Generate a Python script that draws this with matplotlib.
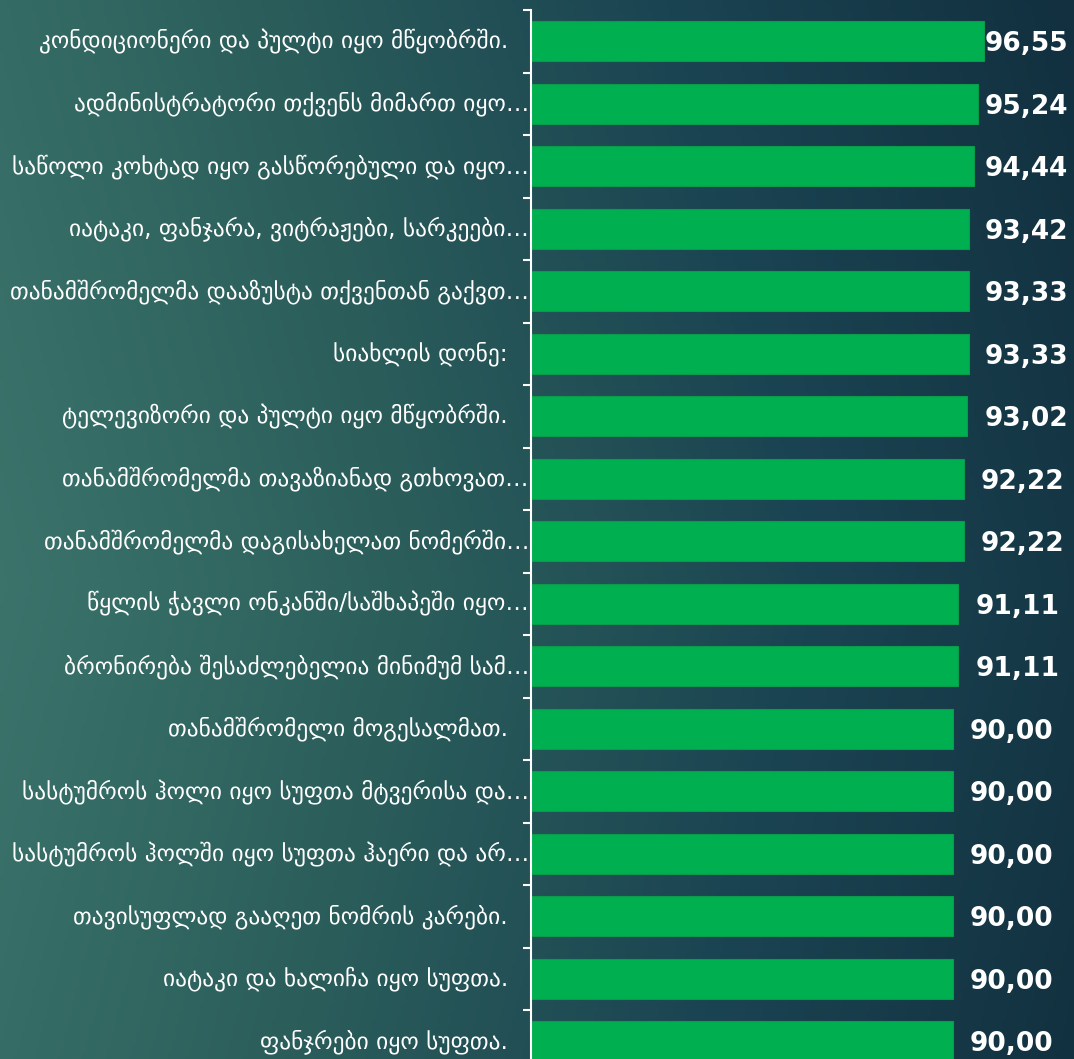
import numpy as np
import matplotlib
matplotlib.use("Agg")
import matplotlib.pyplot as plt
from matplotlib.colors import LinearSegmentedColormap

# data, top to bottom
labels = [
    "კონდიციონერი და პულტი იყო მწყობრში.",
    "ადმინისტრატორი თქვენს მიმართ იყო…",
    "საწოლი კოხტად იყო გასწორებული და იყო…",
    "იატაკი, ფანჯარა, ვიტრაჟები, სარკეები…",
    "თანამშრომელმა დააზუსტა თქვენთან გაქვთ…",
    "სიახლის დონე:",
    "ტელევიზორი და პულტი იყო მწყობრში.",
    "თანამშრომელმა თავაზიანად გთხოვათ…",
    "თანამშრომელმა დაგისახელათ ნომერში…",
    "წყლის ჭავლი ონკანში/საშხაპეში იყო…",
    "ბრონირება შესაძლებელია მინიმუმ სამ…",
    "თანამშრომელი მოგესალმათ.",
    "სასტუმროს ჰოლი იყო სუფთა მტვერისა და…",
    "სასტუმროს ჰოლში იყო სუფთა ჰაერი და არ…",
    "თავისუფლად გააღეთ ნომრის კარები.",
    "იატაკი და ხალიჩა იყო სუფთა.",
    "ფანჯრები იყო სუფთა.",
]
values = [96.55, 95.24, 94.44, 93.42, 93.33, 93.33, 93.02, 92.22, 92.22,
          91.11, 91.11, 90.00, 90.00, 90.00, 90.00, 90.00, 90.00]

W, H = 1074, 1059
fig = plt.figure(figsize=(W / 100, H / 100), dpi=100)

# gradient background (teal at left -> dark navy at right)
bg = fig.add_axes([0, 0, 1, 1])
bg.set_axis_off()
xx, yy = np.meshgrid(np.linspace(0, 1, 300), np.linspace(0, 1, 300))
t = np.clip(xx * 0.85 + np.abs(yy - 0.55) * 0.22, 0, 1)
cmap = LinearSegmentedColormap.from_list("bg", ["#3b736b", "#2b5e5b", "#1b4452", "#12303f"])
bg.imshow(t, cmap=cmap, aspect="auto", extent=[0, 1, 0, 1], origin="upper")
bg.set_xlim(0, 1)
bg.set_ylim(0, 1)

# main axes
x0 = 531 / W
px_per_unit = 4.69
xmax = 115
top = 10
band = 62.5
n = len(values)
ax_h = n * band
ax = fig.add_axes([x0, 1 - (top + ax_h) / H, xmax * px_per_unit / W, ax_h / H])
ax.patch.set_alpha(0)

y = np.arange(n)
ax.barh(y, values, height=0.64, color="#00B050", edgecolor="#0a9c4a", linewidth=0.8)
ax.set_xlim(0, xmax)
ax.set_ylim(n - 0.5, -0.5)

for s in ["top", "right", "bottom"]:
    ax.spines[s].set_visible(False)
ax.spines["left"].set_color("white")
ax.spines["left"].set_linewidth(1.5)
ax.set_xticks([])
ax.set_yticks(np.arange(-0.5, n, 1))
ax.set_yticklabels([])
ax.tick_params(axis="y", colors="white", length=6, width=1.5, direction="out")

# category labels
for i, lab in enumerate(labels):
    off = -2 if lab.endswith("…") else -23
    ax.annotate(lab, xy=(0, i), xytext=(off, 0), textcoords="offset pixels",
                ha="right", va="center", color="white", fontsize=16.8,
                family="DejaVu Sans", annotation_clip=False)

# value labels
cap = 96.8
pad = 17 / px_per_unit
for i, v in enumerate(values):
    ax.text(min(v + pad, cap), i, f"{v:.2f}".replace(".", ","), ha="left",
            va="center_baseline", color="white", fontsize=19, fontweight="bold",
            family="DejaVu Sans", clip_on=False)

fig.savefig("out.png", dpi=100)
